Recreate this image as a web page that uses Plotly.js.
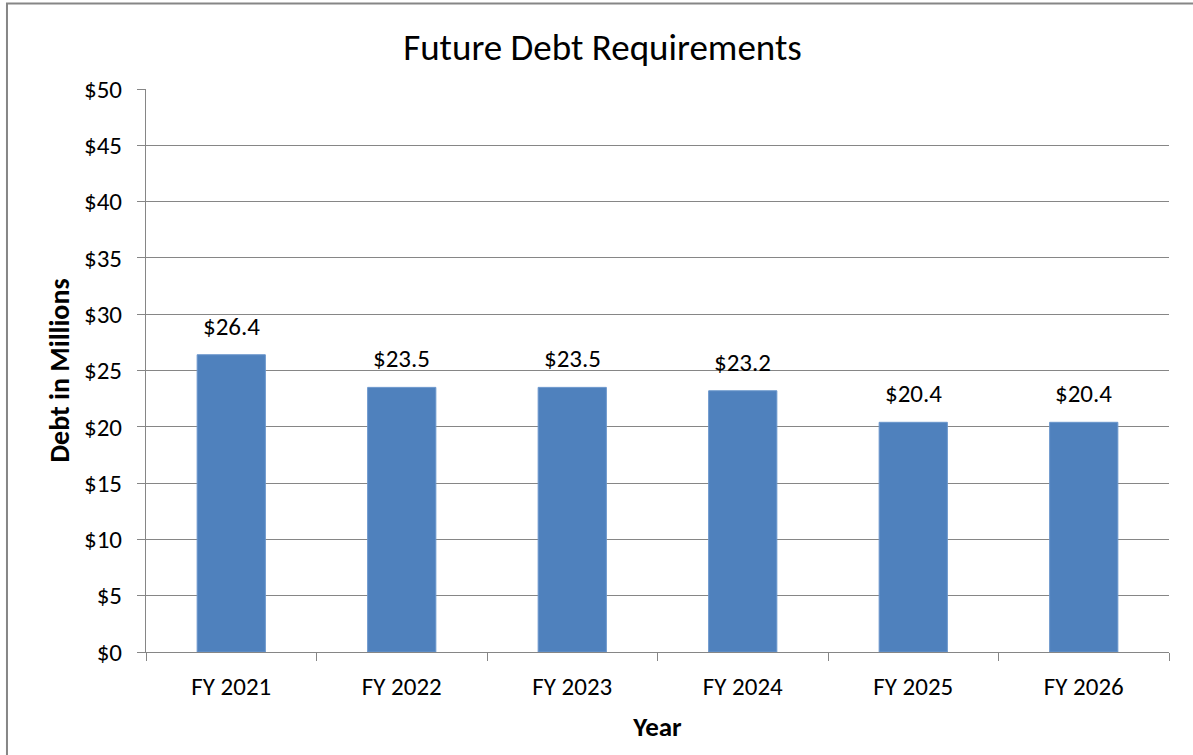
<!DOCTYPE html>
<html>
<head>
<meta charset="utf-8">
<script src="https://cdn.plot.ly/plotly-3.0.1.min.js"></script>
<style>
  html, body { margin: 0; padding: 0; background: #fff; }
</style>
</head>
<body>
<div id="myDiv"></div>
<script>
var years = ['FY 2021', 'FY 2022', 'FY 2023', 'FY 2024', 'FY 2025', 'FY 2026'];
var debt = [26.4, 23.5, 23.5, 23.2, 20.4, 20.4];
var debtLabels = ['$26.4', '$23.5', '$23.5', '$23.2', '$20.4', '$20.4'];

var fontFam = 'Calibri, Carlito, Lato, "Open Sans", sans-serif';
var gray = '#868686';

var trace1 = {
  x: years,
  y: debt,
  type: 'bar',
  width: 0.4,
  marker: {
    color: '#4F81BD',
    line: { color: '#6A96CC', width: 1 }
  },
  hoverinfo: 'x+y'
};

// value labels sit a bit above each bar, like the original
var labels = years.map(function (yr, i) {
  return {
    x: yr,
    y: debt[i],
    text: debtLabels[i],
    showarrow: false,
    yanchor: 'bottom',
    yshift: 11,
    font: { family: fontFam, size: 25, color: '#000' }
  };
});

var layout = {
  width: 1193,
  height: 755,
  margin: { l: 146, r: 24, t: 89, b: 103 },
  paper_bgcolor: '#fff',
  plot_bgcolor: '#fff',
  showlegend: false,
  font: { family: fontFam, size: 25, color: '#000' },
  title: {
    text: 'Future Debt Requirements',
    font: { family: fontFam, size: 37, color: '#000' },
    x: 0.505,
    xanchor: 'center',
    y: 0.938,
    yanchor: 'middle'
  },
  xaxis: {
    type: 'category',
    tickson: 'boundaries',
    ticks: 'outside',
    ticklen: 8,
    tickcolor: gray,
    showline: true,
    linecolor: gray,
    linewidth: 1,
    showgrid: false,
    ticklabelstandoff: 12,
    tickfont: { family: fontFam, size: 25 },
    title: {
      text: '<b>Year</b>',
      font: { family: fontFam, size: 27 },
      standoff: 16
    }
  },
  yaxis: {
    range: [0, 50],
    dtick: 5,
    tickprefix: '$',
    ticks: 'outside',
    ticklen: 8,
    tickcolor: gray,
    showline: true,
    linecolor: gray,
    linewidth: 1,
    gridcolor: gray,
    gridwidth: 1,
    zeroline: false,
    ticklabelstandoff: 10,
    tickfont: { family: fontFam, size: 25 },
    title: {
      text: '<b>Debt in Millions</b>',
      font: { family: fontFam, size: 28 },
      standoff: 6
    }
  },
  annotations: labels,
  shapes: [{
    type: 'rect',
    xref: 'paper',
    yref: 'paper',
    x0: -0.1359,
    x1: 1.2,
    y0: -0.3,
    y1: 1.152,
    line: { color: gray, width: 2 },
    fillcolor: 'rgba(0,0,0,0)',
    layer: 'below'
  }]
};

Plotly.newPlot('myDiv', [trace1], layout, { displayModeBar: false });
</script>
</body>
</html>
